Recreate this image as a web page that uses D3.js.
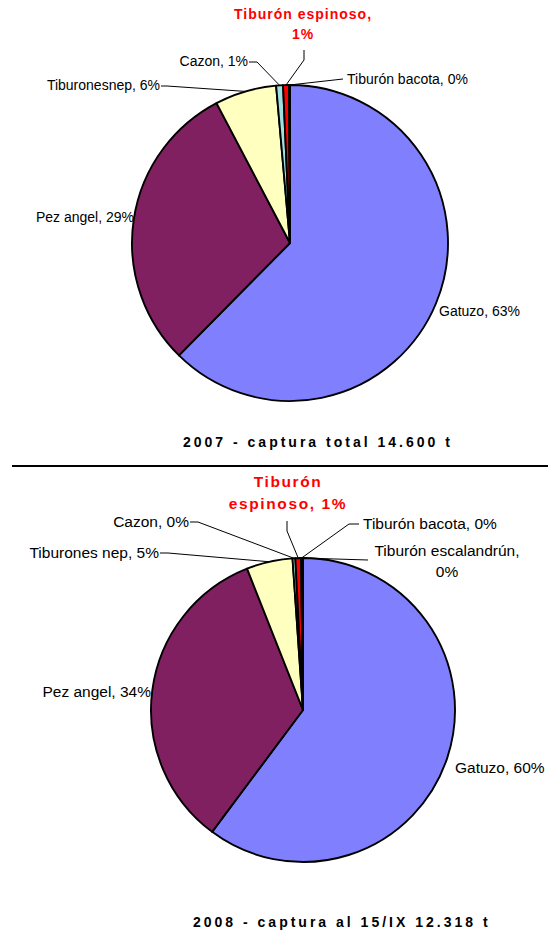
<!DOCTYPE html>
<html>
<head>
<meta charset="utf-8">
<script src="https://cdn.jsdelivr.net/npm/d3@7"></script>
<style>
  html, body { margin: 0; padding: 0; background: #fff; }
  svg { display: block; font-family: "Liberation Sans", Arial, sans-serif; }
</style>
</head>
<body>
<svg id="chart" width="548" height="940"></svg>
<script>
// ---- data ----
const categories2007 = ["Gatuzo", "Pez angel", "Tiburonesnep", "Cazon", "Tiburón espinoso", "Tiburón bacota"];
const values2007 = [62.4, 29.9, 6.3, 0.7, 0.6, 0.1];
const pctLabels2007 = ["63%", "29%", "6%", "1%", "1%", "0%"];
const title2007 = "2007 - captura total 14.600 t";

const categories2008 = ["Gatuzo", "Pez angel", "Tiburones nep", "Cazon", "Tiburón espinoso", "Tiburón bacota", "Tiburón escalandrún"];
const values2008 = [60.2, 33.8, 4.9, 0.3, 0.6, 0.1, 0.1];
const pctLabels2008 = ["60%", "34%", "5%", "0%", "1%", "0%", "0%"];
const title2008 = "2008 - captura al 15/IX 12.318 t";

const sliceColors = ["#8080FF", "#802060", "#FFFFC0", "#A0E0E0", "#FF0000", "#600080", "#0080C0"];

// ---- layout (positions only) ----
const layout2007 = {
  cx: 290, cy: 243, r: 158, fontSize: 14, redSize: 14, redSpacing: 1.0,
  title: { x: 183, y: 447 },
  labels: [
    { x: 439, y: 316, anchor: "start" },
    { x: 134, y: 222, anchor: "end" },
    { x: 160, y: 90, anchor: "end", leader: [[161, 86], [167, 86]] },
    { x: 248, y: 66, anchor: "end", leader: [[249, 62], [257, 62]] },
    { x: 303, y: 19, anchor: "middle", red: true, breakAfter: 2, lineGap: 20, leader: [[304, 50], [304, 60]] },
    { x: 347, y: 84, anchor: "start", leader: [[343, 79]] }
  ]
};
const layout2008 = {
  cx: 303, cy: 710, r: 152, fontSize: 15.5, redSize: 15.5, redSpacing: 1.6,
  title: { x: 193, y: 927 },
  labels: [
    { x: 455, y: 773, anchor: "start" },
    { x: 151, y: 697, anchor: "end" },
    { x: 159, y: 558, anchor: "end", leader: [[160, 553], [168, 553]] },
    { x: 189, y: 527, anchor: "end", leader: [[190, 522], [198, 522]] },
    { x: 288, y: 487, anchor: "middle", red: true, breakAfter: 1, lineGap: 22, leader: [[287, 521], [287, 531]] },
    { x: 363, y: 529, anchor: "start", leader: [[359, 524], [349, 524]] },
    { x: 447, y: 556, anchor: "middle", breakAfter: 2, lineGap: 21, leader: [[368, 560]] }
  ]
};

const svg = d3.select("#chart");

function drawPie(categories, values, pcts, title, L) {
  const g = svg.append("g");
  const pie = d3.pie().sort(null).value(d => d).startAngle(0).endAngle(2 * Math.PI);
  const arcs = pie(values);
  const arc = d3.arc().innerRadius(0).outerRadius(L.r);

  g.selectAll("path.slice").data(arcs).join("path")
    .attr("class", "slice")
    .attr("transform", `translate(${L.cx},${L.cy})`)
    .attr("d", arc)
    .attr("fill", (d, i) => sliceColors[i])
    .attr("stroke", "#000")
    .attr("stroke-width", 1.9)
    .attr("stroke-linejoin", "round");

  arcs.forEach((a, i) => {
    const lab = L.labels[i];
    const mid = (a.startAngle + a.endAngle) / 2;
    const edge = [L.cx + L.r * Math.sin(mid), L.cy - L.r * Math.cos(mid)];
    if (lab.leader) {
      let pts;
      if (lab.anchor === "start" && lab.leader.length === 1) pts = [edge, ...lab.leader];
      else if (lab.anchor === "start" && lab.leader.length > 1) pts = [...lab.leader, edge];
      else if (lab.anchor === "middle" && !lab.red) pts = [edge, ...lab.leader];
      else pts = [...lab.leader, edge];
      g.append("path")
        .attr("d", d3.line()(pts))
        .attr("fill", "none")
        .attr("stroke", "#000")
        .attr("stroke-width", 1);
    }
    const full = categories[i] + ", " + pcts[i];
    const words = full.split(" ");
    const lines = lab.breakAfter ? [words.slice(0, lab.breakAfter).join(" "), words.slice(lab.breakAfter).join(" ")] : [full];
    const t = g.append("text")
      .attr("text-anchor", lab.anchor)
      .attr("font-size", lab.red ? L.redSize : L.fontSize)
      .attr("font-weight", lab.red ? "bold" : "normal")
      .attr("letter-spacing", lab.red ? L.redSpacing : 0)
      .attr("fill", lab.red ? "#FF0000" : "#000");
    lines.forEach((ln, k) => {
      t.append("tspan").attr("x", lab.x).attr("y", lab.y + k * (lab.lineGap || 0)).text(ln);
    });
  });

  svg.append("text")
    .attr("x", L.title.x).attr("y", L.title.y)
    .attr("font-size", 14).attr("font-weight", "bold")
    .attr("letter-spacing", 3)
    .attr("fill", "#000")
    .text(title);
}

drawPie(categories2007, values2007, pctLabels2007, title2007, layout2007);

svg.append("line")
  .attr("x1", 12).attr("x2", 548).attr("y1", 466).attr("y2", 466)
  .attr("stroke", "#000").attr("stroke-width", 2);

drawPie(categories2008, values2008, pctLabels2008, title2008, layout2008);
</script>
</body>
</html>
